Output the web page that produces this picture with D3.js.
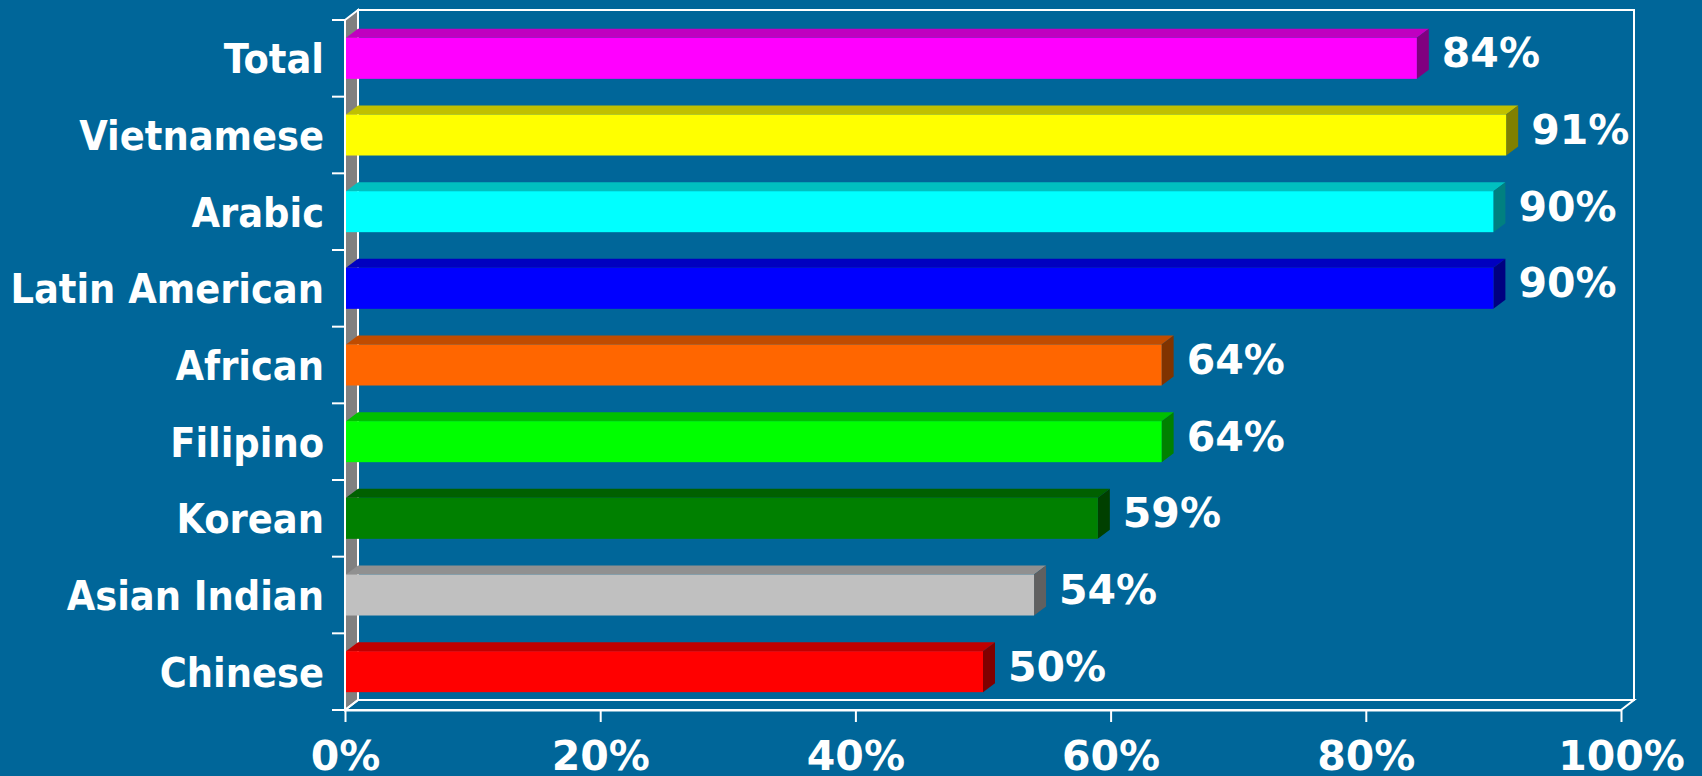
<!DOCTYPE html>
<html>
<head>
<meta charset="utf-8">
<script src="https://cdn.jsdelivr.net/npm/d3@7"></script>
<style>
	html, body { margin: 0; padding: 0; background: #006699; overflow: hidden; }
	#chart text { fill: #fff; font-weight: bold; }
	.cat { font-family: "DejaVu Sans Condensed", "DejaVu Sans", sans-serif; font-size: 41px; }
	.num { font-family: "DejaVu Sans", sans-serif; font-size: 41px; }
</style>
</head>
<body>
<div id="chart"></div>
<script>
(function(d3) {
'use strict';

var categories = ['Total', 'Vietnamese', 'Arabic', 'Latin American', 'African', 'Filipino', 'Korean', 'Asian Indian', 'Chinese'];
var values = [84, 91, 90, 90, 64, 64, 59, 54, 50];
var tickValues = [0, 20, 40, 60, 80, 100];

// front / top / side shades for each bar
var frontColors = ['#FF00FF', '#FFFF00', '#00FFFF', '#0000FF', '#FF6600', '#00FF00', '#008000', '#C0C0C0', '#FF0000'];
var topColors   = ['#C000C0', '#C0C000', '#00C0C0', '#0000C0', '#C04C00', '#00C000', '#006000', '#909090', '#C00000'];
var sideColors  = ['#800080', '#808000', '#008080', '#000080', '#803300', '#008000', '#004000', '#606060', '#800000'];

var dataset = categories.map(function(c, i) {
	return { label: c, value: values[i], front: frontColors[i], top: topColors[i], side: sideColors[i] };
});

var width = 1702;
var height = 776;
var plot = { left: 345, right: 1621, top: 20, bottom: 710 };
var wall = { dx: 13, dy: 10 };
var depth = { dx: 12, dy: 9 };

var x = d3.scaleLinear()
	.domain([0, 100])
	.range([plot.left, plot.right]);

var y = d3.scaleBand()
	.domain(categories)
	.range([plot.top, plot.bottom])
	.paddingInner(0.465)
	.paddingOuter(0.2325);

var svg = d3.select('#chart')
	.append('svg')
	.attr('width', width)
	.attr('height', height);

svg.append('rect')
	.attr('width', width)
	.attr('height', height)
	.attr('fill', '#006699');

// left side wall
svg.append('polygon')
	.attr('points', [
		[plot.left, plot.top],
		[plot.left + wall.dx, plot.top - wall.dy],
		[plot.left + wall.dx, plot.bottom - wall.dy],
		[plot.left, plot.bottom]
	].join(' '))
	.attr('fill', '#808080')
	.attr('stroke', '#fff')
	.attr('stroke-width', 2);

// back wall frame
svg.append('rect')
	.attr('x', plot.left + wall.dx)
	.attr('y', plot.top - wall.dy)
	.attr('width', plot.right - plot.left)
	.attr('height', plot.bottom - plot.top)
	.attr('fill', 'none')
	.attr('stroke', '#fff')
	.attr('stroke-width', 2);

// floor
svg.append('polygon')
	.attr('points', [
		[plot.left, plot.bottom],
		[plot.left + wall.dx, plot.bottom - wall.dy],
		[plot.right + wall.dx, plot.bottom - wall.dy],
		[plot.right, plot.bottom]
	].join(' '))
	.attr('fill', 'none')
	.attr('stroke', '#fff')
	.attr('stroke-width', 2);

// y ticks sit on the band boundaries
var yTicks = d3.range(categories.length + 1).map(function(i) {
	return y.range()[0] + i * y.step();
});

svg.append('g')
	.selectAll('line')
	.data(yTicks)
	.enter().append('line')
	.attr('x1', plot.left - 13)
	.attr('x2', plot.left)
	.attr('y1', function(d) { return d; })
	.attr('y2', function(d) { return d; })
	.attr('stroke', '#fff')
	.attr('stroke-width', 2);

svg.append('line')
	.attr('x1', plot.left)
	.attr('x2', plot.left)
	.attr('y1', plot.top)
	.attr('y2', plot.bottom)
	.attr('stroke', '#fff')
	.attr('stroke-width', 2);

svg.append('g')
	.selectAll('text')
	.data(categories)
	.enter().append('text')
	.attr('class', 'cat')
	.attr('x', 324)
	.attr('y', function(d) { return y(d) + y.bandwidth() / 2 + 15; })
	.attr('text-anchor', 'end')
	.text(function(d) { return d; });

var xAxis = d3.axisBottom(x)
	.tickValues(tickValues)
	.tickSize(12)
	.tickSizeOuter(0)
	.tickPadding(19)
	.tickFormat(function(d) { return d + '%'; });

var gx = svg.append('g')
	.attr('transform', 'translate(0,' + plot.bottom + ')')
	.call(xAxis);

gx.select('.domain').attr('stroke', '#fff').attr('stroke-width', 2);
gx.selectAll('.tick line').attr('stroke', '#fff').attr('stroke-width', 2);
gx.selectAll('.tick text')
	.attr('class', 'num')
	.attr('font-family', null)
	.attr('font-size', null);
gx.attr('font-family', null).attr('font-size', null);

// bars
var bars = svg.append('g')
	.selectAll('g')
	.data(dataset)
	.enter().append('g');

bars.append('polygon')
	.attr('points', function(d) {
		var x0 = x(0) + 1, x1 = x(d.value), y0 = y(d.label);
		return [[x0, y0], [x0 + depth.dx, y0 - depth.dy], [x1 + depth.dx, y0 - depth.dy], [x1, y0]].join(' ');
	})
	.attr('fill', function(d) { return d.top; });

bars.append('polygon')
	.attr('points', function(d) {
		var x1 = x(d.value), y0 = y(d.label), y1 = y0 + y.bandwidth();
		return [[x1, y0], [x1 + depth.dx, y0 - depth.dy], [x1 + depth.dx, y1 - depth.dy], [x1, y1]].join(' ');
	})
	.attr('fill', function(d) { return d.side; });

bars.append('rect')
	.attr('x', x(0) + 1)
	.attr('y', function(d) { return y(d.label); })
	.attr('width', function(d) { return x(d.value) - x(0) - 1; })
	.attr('height', y.bandwidth())
	.attr('fill', function(d) { return d.front; });

bars.append('text')
	.attr('class', 'num')
	.attr('x', function(d) { return x(d.value) + 25; })
	.attr('y', function(d) { return y(d.label) + y.bandwidth() / 2 - 6 + 15; })
	.text(function(d) { return d.value + '%'; });

})(window.d3);
</script>
</body>
</html>
